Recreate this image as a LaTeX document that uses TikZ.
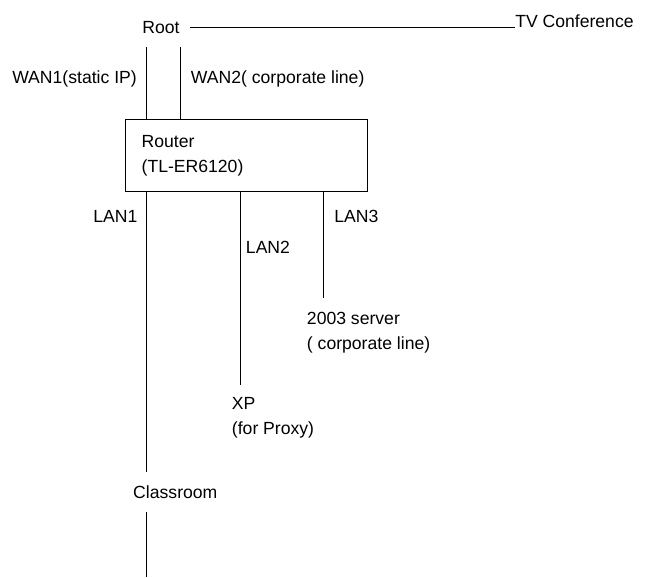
\documentclass[tikz,border=0pt]{standalone}
\usepackage{fontspec}
\setmainfont{Liberation Sans}
\usetikzlibrary{positioning}
\tikzset{
  lbl/.style={font=\fontsize{13.2}{18.75}\selectfont, text=black,
    inner sep=0pt, align=left},
  net/.style={line width=.75pt, draw=black, line cap=butt}
}

\begin{document}
\begin{tikzpicture}[x=.75pt, y=-.75pt,
  hub/.style={lbl, minimum width=43.5pt, minimum height=28.5pt},
  box/.style={lbl, draw=black, line width=.75pt, minimum width=181.3pt,
    minimum height=53.8pt, text width=157.7pt, inner xsep=11.8pt},
  dev/.style={lbl, anchor=north west, inner xsep=0pt}
]
\path[use as bounding box] (0,0) rectangle (648,577);

% top: root and the two WAN links
\node[hub] (root) at (161,28) {Root};
\node[lbl, anchor=south west] (tv) at (515,28) {TV Conference};
\node[lbl, anchor=west] (wan1) at (12,79) {WAN1(static IP)};
\node[lbl, anchor=west] (wan2) at (190.7,79) {WAN2( corporate line)};

\node[box] (router) at (246.8,155.8) {Router\\(TL-ER6120)};
\coordinate (w1) at (146.7,120);
\coordinate (w2) at (180.7,120);
\coordinate (l1) at (146.7,191.7);
\coordinate (l2) at (240,191.7);
\coordinate (l3) at (323.3,191.7);
\coordinate (tail) at (146.7,577);

% LAN side
\node[lbl, anchor=west] (lan1) at (93,216.7) {LAN1};
\node[lbl, anchor=west] (lan2) at (245.7,247.7) {LAN2};
\node[lbl, anchor=west] (lan3) at (334,216.7) {LAN3};

\node[dev, inner ysep=10.5pt] (srv) at (306.7,298) {2003 server\\( corporate line)};
\node[dev, inner ysep=9pt] (xp) at (231.7,385) {XP\\(for Proxy)};
\node[lbl, minimum height=30pt] (room) at (175.3,492) {Classroom};

\draw[net] (root.east) -- (tv.south west);
\draw[net] (root.south -| w1) -- (w1);
\draw[net] (root.south -| w2) -- (w2);
\draw[net] (l1) -- (room.north -| l1);
\draw[net] (room.south -| l1) -- (tail);
\draw[net] (l2) -- (xp.north -| l2);
\draw[net] (l3) -- (srv.north -| l3);
\end{tikzpicture}
\end{document}
